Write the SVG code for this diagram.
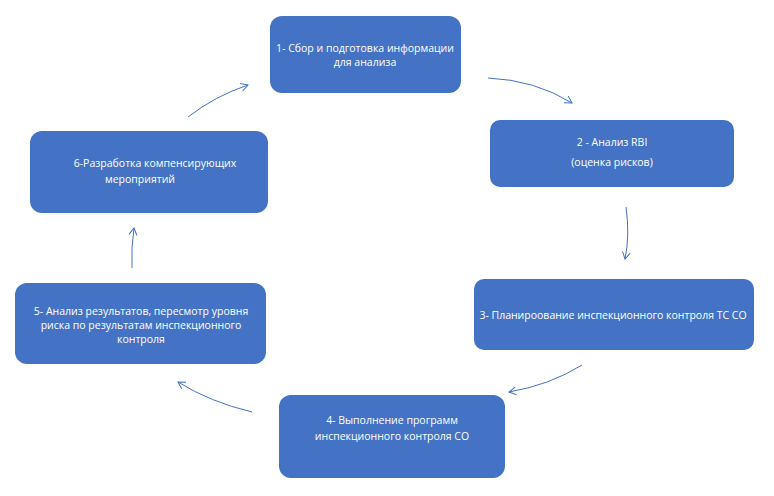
<svg xmlns="http://www.w3.org/2000/svg" width="774" height="496" viewBox="0 0 774 496">
<style>
.b{fill:#4472C4}
.t{fill:#fff;font-family:"Open Sans","Liberation Sans",sans-serif;font-size:10.5px;text-anchor:middle}
.c{fill:none;stroke:#4472C4;stroke-width:1}
</style>
<defs><marker id="a" markerWidth="10" markerHeight="10" refX="8" refY="5" orient="auto" markerUnits="userSpaceOnUse"><path d="M1,1 L8,5 L1,9" fill="none" stroke="#4472C4" stroke-width="1"/></marker></defs>
<rect width="774" height="496" fill="#fff"/>
<g id="n1"><rect class="b" x="270" y="16" width="191" height="77" rx="12"/><text class="t" x="365" y="52">1- Сбор и подготовка информации</text><text class="t" x="365" y="66">для анализа</text></g>
<g id="n2"><rect class="b" x="490" y="120" width="244" height="67" rx="10"/><text class="t" x="612" y="146">2 - Анализ RBI</text><text class="t" x="612" y="166">(оценка рисков)</text></g>
<g id="n3"><rect class="b" x="474" y="279" width="280" height="71" rx="10"/><text class="t" x="613" y="319">3- Планироование инспекционного контроля ТС СО</text></g>
<g id="n4"><rect class="b" x="279" y="395" width="226" height="83" rx="12"/><text class="t" x="392" y="424">4- Выполнение программ</text><text class="t" x="392" y="440">инспекционного контроля СО</text></g>
<g id="n5"><rect class="b" x="15" y="283" width="251" height="81" rx="12"/><text class="t" x="141" y="315">5- Анализ результатов, пересмотр уровня</text><text class="t" x="141" y="329">риска по результатам инспекционного</text><text class="t" x="141" y="343">контроля</text></g>
<g id="n6"><rect class="b" x="30" y="131" width="238" height="82" rx="12"/><text class="t" x="155" y="167">6-Разработка компенсирующих</text><text class="t" x="140" y="183">мероприятий</text></g>
<g id="connectors">
<path class="c" d="M488,78 Q535,80 572,103" marker-end="url(#a)"/>
<path class="c" d="M626,207 Q630,235 625,259" marker-end="url(#a)"/>
<path class="c" d="M582,365 Q550,385 509,392" marker-end="url(#a)"/>
<path class="c" d="M252,412 Q210,402 178,382" marker-end="url(#a)"/>
<path class="c" d="M132,268 Q131,248 134,228" marker-end="url(#a)"/>
<path class="c" d="M188,117 Q215,96 248,85" marker-end="url(#a)"/>
</g>
</svg>
